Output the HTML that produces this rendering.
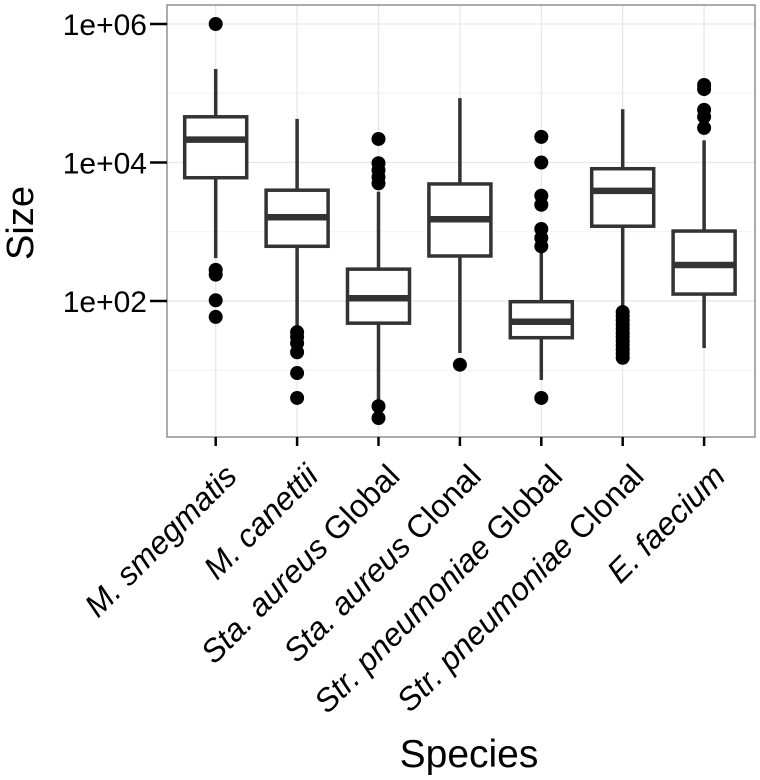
<!DOCTYPE html>
<html><head><meta charset="utf-8"><style>
html,body{margin:0;padding:0;background:#fff;}
svg{display:block;font-family:"Liberation Sans",sans-serif;}
</style></head><body>
<svg id="chart" width="760" height="780" xmlns="http://www.w3.org/2000/svg">
<g id="grid"></g><g id="marks"></g><g id="axes"></g>
</svg>
<script>
const categories = ["M. smegmatis","M. canettii","Sta. aureus Global","Sta. aureus Clonal","Str. pneumoniae Global","Str. pneumoniae Clonal","E. faecium"];
// log10 values
const lowerWhisker = [2.62,1.61,0.57,1.25,0.86,1.84,1.32];
const q1 = [3.78,2.79,1.68,2.65,1.47,3.08,2.10];
const medians = [4.33,3.21,2.04,3.18,1.70,3.59,2.52];
const q3 = [4.66,3.60,2.46,3.69,1.99,3.91,3.01];
const upperWhisker = [5.35,4.63,3.58,4.93,2.71,4.77,4.32];
const outliers = [
 [6.0,2.45,2.38,2.01,1.77],
 [1.55,1.48,1.39,1.26,0.96,0.60],
 [4.34,3.99,3.89,3.79,3.70,0.48,0.31],
 [1.08],
 [4.37,4.0,3.52,3.39,3.04,2.91,2.79,0.60],
 [1.84,1.78,1.72,1.66,1.60,1.54,1.48,1.42,1.36,1.30,1.24,1.18],
 [5.12,5.06,4.76,4.66,4.50]
];
const yTicks = [2,4,6];
const yTickLabels = ["1e+02","1e+04","1e+06"];
const yMinor = [1,3,5];

const NS="http://www.w3.org/2000/svg";
const L=167,R=755,T=5,B=437;
const x0=215.7, step=81.4;
function xs(i){return x0+i*step;}
function ys(v){return 301-(v-2)*69.25;}
function mk(tag,attrs,parent){const e=document.createElementNS(NS,tag);for(const k in attrs)e.setAttribute(k,attrs[k]);parent.appendChild(e);return e;}
const grid=document.getElementById('grid'),marks=document.getElementById('marks'),axes=document.getElementById('axes');

const bg=mk('rect',{x:L,y:T,width:R-L,height:B-T,fill:'#fff'},grid);


yMinor.forEach(v=>{const l=mk('line',{x1:L,x2:R,y1:ys(v),y2:ys(v),stroke:'#f2f2f2','stroke-width':1},grid);

});
yTicks.forEach(v=>{const l=mk('line',{x1:L,x2:R,y1:ys(v),y2:ys(v),stroke:'#e6e6e6','stroke-width':1.2},grid);

});
categories.forEach((c,i)=>{const l=mk('line',{x1:xs(i),x2:xs(i),y1:T,y2:B,stroke:'#e6e6e6','stroke-width':1.2},grid);

});

const hw=31;
categories.forEach((c,i)=>{
 const g=mk('g',{},marks);
 
 
 const cx=xs(i);
 mk('line',{x1:cx,x2:cx,y1:ys(upperWhisker[i]),y2:ys(q3[i]),stroke:'#333','stroke-width':3.5},g);
 mk('line',{x1:cx,x2:cx,y1:ys(q1[i]),y2:ys(lowerWhisker[i]),stroke:'#333','stroke-width':3.5},g);
 mk('rect',{x:cx-hw,y:ys(q3[i]),width:2*hw,height:ys(q1[i])-ys(q3[i]),fill:'#fff',stroke:'#333','stroke-width':3.5},g);
 mk('line',{x1:cx-hw,x2:cx+hw,y1:ys(medians[i]),y2:ys(medians[i]),stroke:'#333','stroke-width':6.5},g);
 outliers[i].forEach(v=>{const p=mk('circle',{cx:cx,cy:ys(v),r:7,fill:'#000'},g);
 
 });
});

const fr=mk('rect',{x:L,y:T,width:R-L,height:B-T,fill:'none',stroke:'#7f7f7f','stroke-width':1.3},axes);


yTicks.forEach((v,k)=>{
 const t=mk('line',{x1:L-17,x2:L,y1:ys(v),y2:ys(v),stroke:'#000','stroke-width':2.5},axes);
 
 
 const tx=mk('text',{x:L-20,y:ys(v)+11,'text-anchor':'end','font-size':30,fill:'#000'},axes);
 tx.textContent=yTickLabels[k];
 
 
});
categories.forEach((c,i)=>{
 const cx=xs(i);
 const t=mk('line',{x1:cx,x2:cx,y1:B,y2:B+9,stroke:'#000','stroke-width':2.5},axes);
 
 
 const ax=cx+23, ay=B+41;
 const tx=mk('text',{x:ax,y:ay,'text-anchor':'end','font-size':32,fill:'#000',transform:`rotate(-45 ${ax} ${ay})`},axes);
 
 
 const m=c.match(/^(.*?)( Global| Clonal)?$/);
 const s1=mk('tspan',{'font-style':'italic'},tx); s1.textContent=m[1];
 if(m[2]){const s2=mk('tspan',{},tx); s2.textContent=m[2];}
});
const xt=mk('text',{x:469,y:767,'text-anchor':'middle','font-size':39,fill:'#000'},axes);
xt.textContent='Species';


const yt=mk('text',{x:33,y:223,'text-anchor':'middle','font-size':38,fill:'#000',transform:'rotate(-90 33 223)'},axes);
yt.textContent='Size';


</script>
</body></html>
